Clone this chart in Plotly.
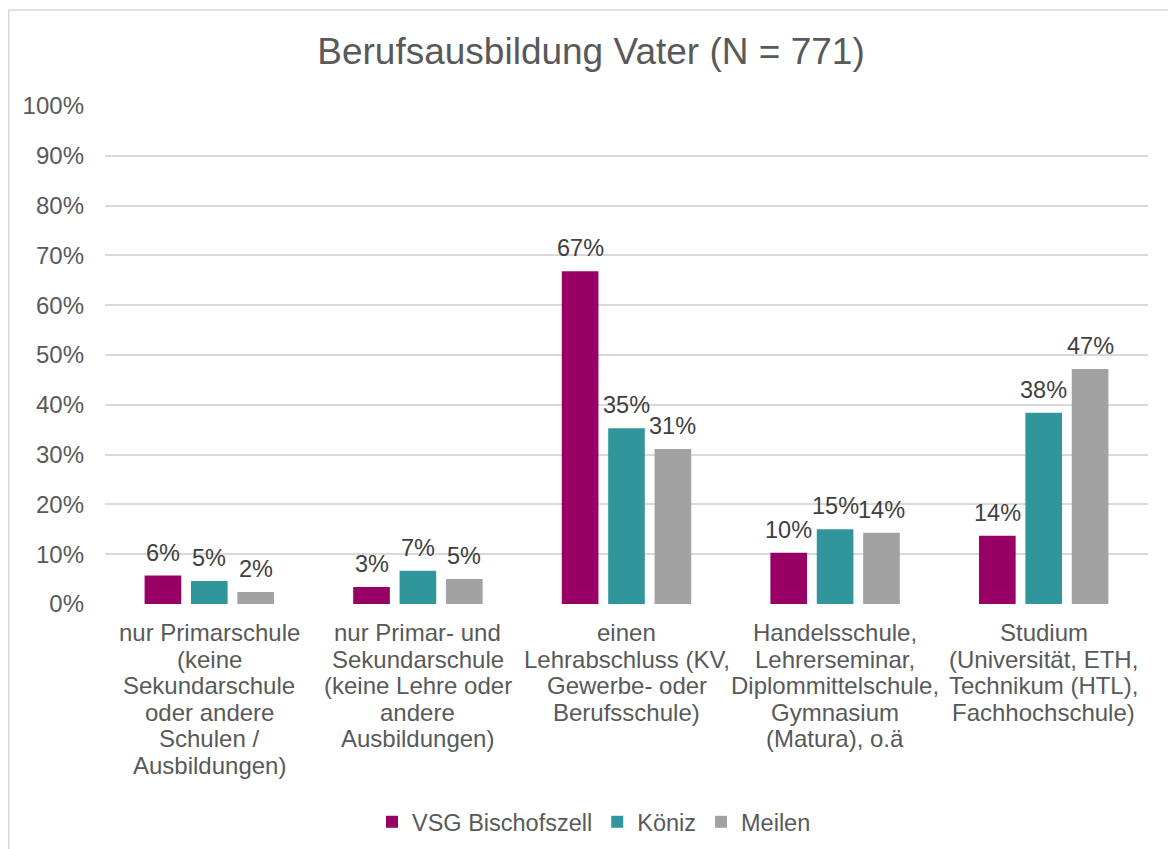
import plotly.graph_objects as go

categories = [
    "nur Primarschule<br>(keine<br>Sekundarschule<br>oder andere<br>Schulen /<br>Ausbildungen)",
    "nur Primar- und<br>Sekundarschule<br>(keine Lehre oder<br>andere<br>Ausbildungen)",
    "einen<br>Lehrabschluss (KV,<br>Gewerbe- oder<br>Berufsschule)",
    "Handelsschule,<br>Lehrerseminar,<br>Diplommittelschule,<br>Gymnasium<br>(Matura), o.ä",
    "Studium<br>(Universität, ETH,<br>Technikum (HTL),<br>Fachhochschule)",
]
series_names = ["VSG Bischofszell", "Köniz", "Meilen"]
vsg = [0.057, 0.034, 0.668, 0.103, 0.137]
koeniz = [0.046, 0.067, 0.353, 0.150, 0.384]
meilen = [0.024, 0.050, 0.311, 0.143, 0.472]
series_values = [vsg, koeniz, meilen]
colors = ["#990066", "#31969B", "#A2A2A2"]
y_ticks = [i / 10 for i in range(11)]

OFF = 8  # default page body margin
W, H = 1176 - OFF, 849 - OFF
ML, MR, MT, MB = 105 - OFF, 28, 106 - OFF, 245
BARGAP, GROUPGAP = 0.333, 0.21
FONT = "Liberation Sans, Arial, sans-serif"
TXT = "#595959"

fig = go.Figure()
for name, vals, col in zip(series_names, series_values, colors):
    fig.add_trace(go.Bar(x=categories, y=vals, name=name, marker_color=col,
                         marker_line_width=0))

plot_w = W - ML - MR
plot_h = H - MT - MB
cat_px = plot_w / len(categories)
slot = cat_px * (1 - BARGAP) / len(series_names)

annotations = []
# data labels
for j, vals in enumerate(series_values):
    for c, v in zip(categories, vals):
        annotations.append(dict(
            x=c, y=v, xref="x", yref="y", text=f"{round(v*100)}%",
            showarrow=False, yanchor="bottom", xanchor="center",
            xshift=(j - 1) * slot, yshift=8,
            font=dict(family=FONT, size=23.5, color="#404040")))
# category labels, line by line
for c in categories:
    for i, line in enumerate(c.split("<br>")):
        annotations.append(dict(
            x=c, y=0, xref="x", yref="paper", text=line, showarrow=False,
            yanchor="middle", xanchor="center", yshift=-28.5 - 26.5 * i,
            font=dict(family=FONT, size=24, color=TXT)))

# chart-area border (top and left visible)
top_y = 1 + (MT - (10 - OFF)) / plot_h
left_x = (0.75 - ML) / plot_w
shapes = [
    dict(type="line", xref="paper", yref="paper", x0=left_x,
         x1=(W - ML) / plot_w + 0.05, y0=top_y, y1=top_y,
         line=dict(color="#D9D9D9", width=1.5)),
    dict(type="line", xref="paper", yref="paper", x0=left_x,
         x1=left_x, y0=top_y, y1=-(MB + 5) / plot_h,
         line=dict(color="#D9D9D9", width=1.5)),
]

fig.update_layout(
    width=W, height=H,
    margin=dict(l=ML, r=MR, t=MT, b=MB, autoexpand=False),
    paper_bgcolor="white", plot_bgcolor="white",
    barmode="group", bargap=BARGAP, bargroupgap=GROUPGAP,
    title=dict(text="Berufsausbildung Vater (N = 771)",
               x=(591 - OFF) / W, xanchor="center",
               xref="container", yref="container", y=1 - (51 - OFF) / H,
               yanchor="middle",
               font=dict(family=FONT, size=37, color=TXT)),
    font=dict(family=FONT, color=TXT),
    xaxis=dict(showticklabels=False, showgrid=False, zeroline=False,
               showline=False, ticks=""),
    yaxis=dict(range=[0, 1], tickvals=y_ticks, tickformat=".0%",
               showgrid=True, gridcolor="#D9D9D9", gridwidth=1.5,
               zeroline=False, showline=False, ticks="",
               ticklabelstandoff=20,
               tickfont=dict(family=FONT, size=24, color=TXT)),
    legend=dict(orientation="h", x=(594 - OFF - ML) / plot_w,
                xanchor="center",
                y=-(822 - 604) / plot_h, yanchor="middle",
                font=dict(family=FONT, size=23.5, color=TXT),
                itemwidth=30, traceorder="normal"),
    annotations=annotations,
    shapes=shapes,
    showlegend=True,
)

fig.write_html("out.html")
